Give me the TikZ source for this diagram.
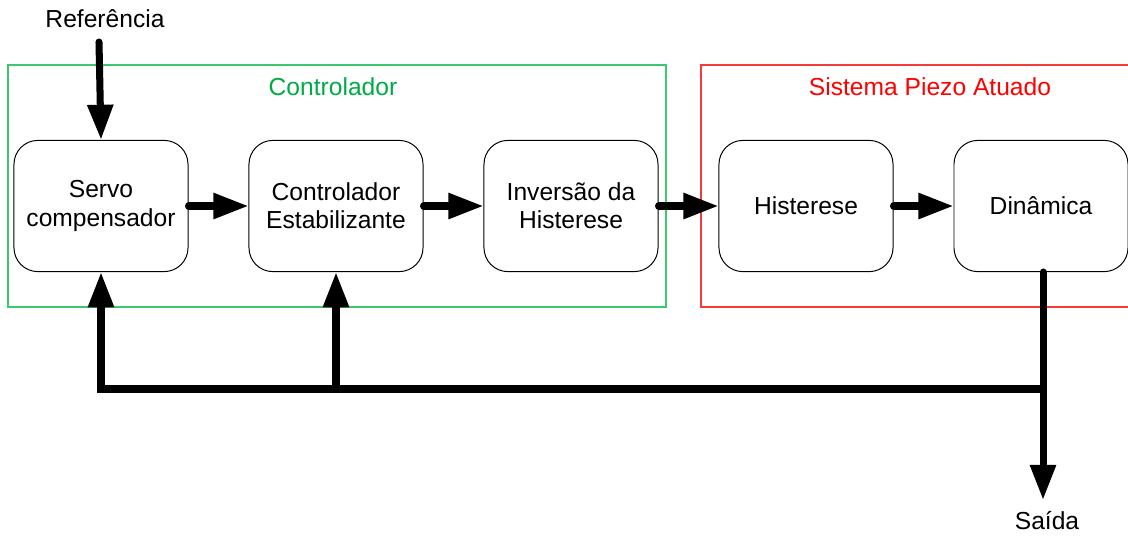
\documentclass[tikz,border=0pt]{standalone}
\usepackage{fontspec}
\setmainfont{Liberation Sans}
\usetikzlibrary{arrows.meta, calc}

\definecolor{ctrlgreen}{RGB}{0,170,70}
\definecolor{plantred}{RGB}{255,0,0}
\definecolor{ctrlframe}{RGB}{60,200,110}
\definecolor{plantframe}{RGB}{245,60,60}

\begin{document}
\begin{tikzpicture}[
  x=0.025cm, y=-0.025cm,
  block/.style={rectangle, draw, line width=0.7pt, rounded corners=17pt,
                minimum width=4.35cm, minimum height=3.28cm,
                align=center, font=\fontsize{17.5}{20}\selectfont},
  group/.style={draw, line width=0.8pt},
  label/.style={font=\fontsize{17.5}{20}\selectfont},
  flow/.style={-{Triangle[length=25pt, width=17.5pt]}, line width=5pt,
               line cap=round, line join=miter}
]
\useasboundingbox (0,0) rectangle (1128,535);

% Groups
\draw[group, draw=ctrlframe]  (8,65) rectangle (666,307);
\draw[group, draw=plantframe] (701,65) rectangle (1140,307);
\node[label, text=ctrlgreen] at (333,87)  (ctrltitle)  {Controlador};
\node[label, text=plantred]  at (930,87)  (planttitle) {Sistema Piezo Atuado};

% Blocks
\node[block] at (101,206)  (servo) {Servo\\compensador};
\node[block] at (336,206)  (estab) {Controlador\\Estabilizante};
\node[block] at (571,206)  (inv)   {Inversão da\\Histerese};
\node[block] at (806,206)  (hist)  {Histerese};
\node[block] at (1041,206) (dyn)   {Dinâmica};

% Input and output
\node[label] at (105,19)   (ref)   {Referência};
\node[label] at (1047,521) (saida) {Saída};
\coordinate (refin)  at (99,42);
\coordinate (dynout) at (1043,272);
\coordinate (outend) at (1043,500);
\coordinate (fb)     at (1043,389);

% Forward path
\draw[flow] (refin) -- (servo.north);
\draw[flow] (servo) -- (estab);
\draw[flow] (estab) -- (inv);
\draw[flow] (inv)   -- (hist);
\draw[flow] (hist)  -- (dyn);

% Feedback
\draw[flow] (dynout) -- (outend);
\draw[flow] (fb) -| (servo.south);
\draw[flow] (fb -| estab.south) -- (estab.south);
\end{tikzpicture}
\end{document}
